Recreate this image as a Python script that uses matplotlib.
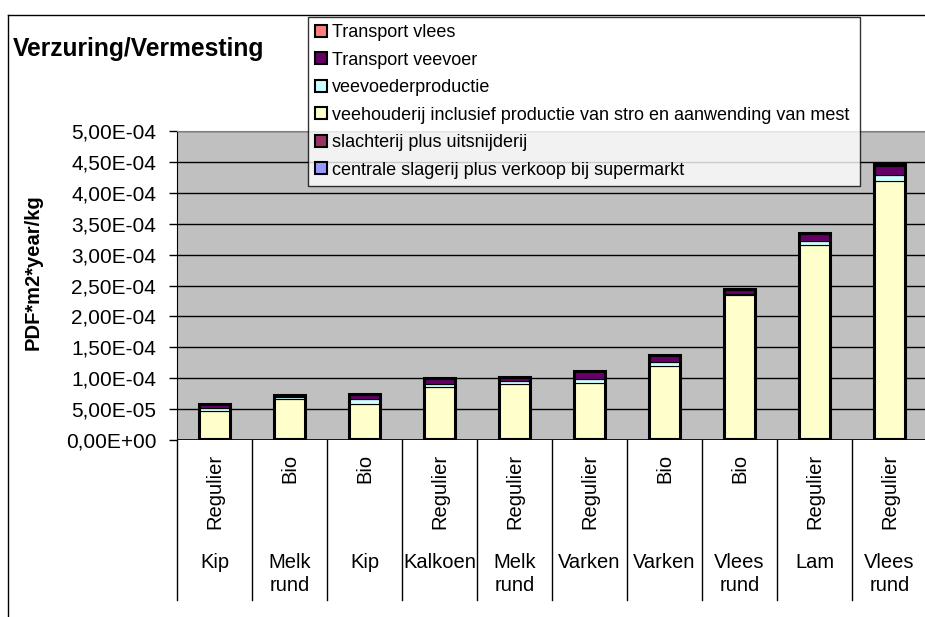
import numpy as np
import matplotlib
matplotlib.use("Agg")
import matplotlib.pyplot as plt
from matplotlib.lines import Line2D
from matplotlib.ticker import FuncFormatter, MultipleLocator
import matplotlib.transforms as mtransforms

plt.rcParams["font.family"] = ["Liberation Sans", "DejaVu Sans"]

# Categories (outer level = animal, inner level = production type)
dieren = ["Kip", "Melk\nrund", "Kip", "Kalkoen", "Melk\nrund",
          "Varken", "Varken", "Vlees\nrund", "Lam", "Vlees\nrund"]
soorten = ["Regulier", "Bio", "Bio", "Regulier", "Regulier",
           "Regulier", "Bio", "Bio", "Regulier", "Regulier"]

# Values in units of 1e-5 PDF*m2*year/kg, bottom of stack first
centrale = np.array([0.15, 0.15, 0.15, 0.15, 0.15, 0.15, 0.15, 0.15, 0.15, 0.15])
slachterij = np.array([0.25, 0.25, 0.25, 0.25, 0.25, 0.25, 0.25, 0.25, 0.25, 0.25])
veehouderij = np.array([4.3, 6.3, 5.5, 8.1, 8.6, 8.9, 11.5, 23.0, 31.2, 41.5])
veevoeder = np.array([0.5, 0.3, 0.7, 0.6, 0.5, 0.5, 0.8, 0.3, 0.6, 0.9])
transport_veevoer = np.array([0.6, 0.2, 0.7, 0.8, 0.6, 1.3, 1.0, 0.6, 1.2, 1.6])
transport_vlees = np.array([0.1, 0.1, 0.1, 0.1, 0.1, 0.1, 0.1, 0.1, 0.1, 0.2])

series = [
    ("centrale slagerij plus verkoop bij supermarkt", centrale, "#9999FF"),
    ("slachterij plus uitsnijderij", slachterij, "#993366"),
    ("veehouderij inclusief productie van stro en aanwending van mest", veehouderij, "#FFFFCC"),
    ("veevoederproductie", veevoeder, "#CCFFFF"),
    ("Transport veevoer", transport_veevoer, "#660066"),
    ("Transport vlees", transport_vlees, "#FF8080"),
]

W, H = 925, 617
fs = 14.5
fig = plt.figure(figsize=(W / 100, H / 100), dpi=100)
fig.patch.set_facecolor("white")

left, right, top, bottom = 177, 927, 131, 440
ax = fig.add_axes([left / W, 1 - bottom / H, (right - left) / W, (bottom - top) / H])
ax.set_facecolor("#C0C0C0")

x = np.arange(len(dieren))
width = 0.42
base = np.zeros(len(x))
handles = []
for label, vals, col in series:
    b = ax.bar(x, vals * 1e-5, width, bottom=base * 1e-5, color=col,
               edgecolor="black", linewidth=0.8, label=label, zorder=3)
    handles.append(b)
    base = base + vals
# thick outline around each full stack
ax.bar(x, base * 1e-5, width, fill=False, edgecolor="black", linewidth=2.2, zorder=4)

ax.set_xlim(-0.5, len(x) - 0.5)
ax.set_ylim(0, 5e-4)
ax.yaxis.set_major_locator(MultipleLocator(5e-5))
ax.yaxis.set_major_formatter(FuncFormatter(lambda v, p: f"{v:.2E}".replace(".", ",")))
ax.grid(axis="y", color="black", linewidth=1, zorder=1)
ax.set_axisbelow(True)
ax.tick_params(axis="y", direction="out", length=6, width=1, labelsize=15, pad=9)
ax.set_xticks([])
for s in ["right", "bottom"]:
    ax.spines[s].set_visible(False)
ax.spines["top"].set_color("#808080")
ax.spines["left"].set_color("black")
ax.axhline(0, color="black", linewidth=1.2, zorder=5)

# multi-level category axis
trans = mtransforms.blended_transform_factory(ax.transData, ax.transAxes)
line_bottom = -(600 - bottom) / (bottom - top)
for xb in np.arange(-0.5, len(x), 1.0):
    ax.add_line(Line2D([xb, xb], [0, line_bottom], transform=trans,
                       color="black", linewidth=1, clip_on=False))
y_inner = -(454 - bottom) / (bottom - top)
y_outer = -(553 - bottom) / (bottom - top)
for i in x:
    ax.text(i, y_inner, soorten[i], transform=trans, rotation=90,
            ha="center", va="top", fontsize=fs)
    ax.text(i, y_outer, dieren[i], transform=trans, ha="center", va="top",
            fontsize=fs, linespacing=1.25)

# chart border
fig.add_artist(Line2D([8 / W, 8 / W], [0, 1 - 15 / H], transform=fig.transFigure,
                      color="black", linewidth=1))
fig.add_artist(Line2D([8 / W, 1], [1 - 15 / H, 1 - 15 / H], transform=fig.transFigure,
                      color="black", linewidth=1))

fig.text(13 / W, 1 - 49 / H, "Verzuring/Vermesting", fontsize=17.7, fontweight="bold",
         va="center", ha="left")
fig.text(33 / W, 1 - 272 / H, "PDF*m2*year/kg", fontsize=fs, fontweight="bold",
         rotation=90, va="center", ha="center")

leg = fig.legend(handles[::-1], [s[0] for s in series][::-1],
                 bbox_to_anchor=(308 / W, 1 - 178 / H, 552 / W, 161 / H),
                 loc="upper left", mode="expand", borderaxespad=0,
                 fontsize=13.0, frameon=True, fancybox=False, shadow=False,
                 handlelength=0.65, handleheight=0.65, handletextpad=0.3,
                 labelspacing=0.58, borderpad=0.4)
leg.get_frame().set_edgecolor("black")
leg.get_frame().set_linewidth(1)
leg.set_zorder(10)
for p in leg.get_patches():
    p.set_linewidth(1.5)

fig.savefig("out.png", dpi=100)
